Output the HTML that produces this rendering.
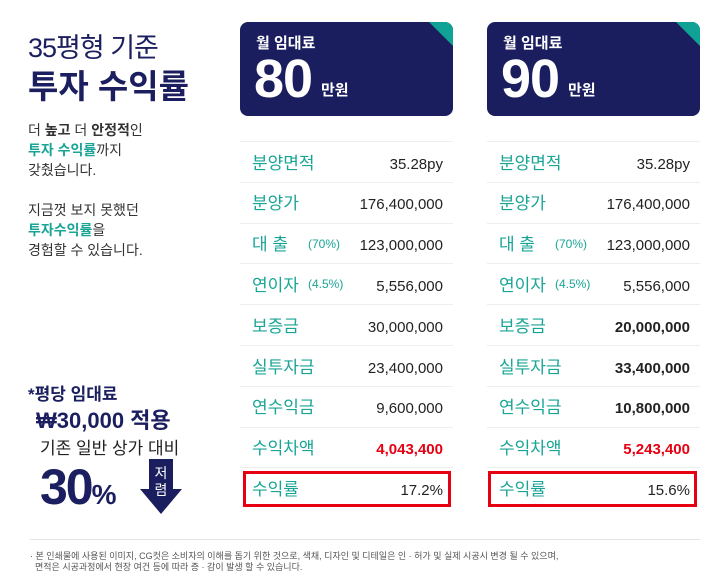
<!DOCTYPE html>
<html><head><meta charset="utf-8"><style>
*{margin:0;padding:0;box-sizing:border-box}
body{width:711px;height:578px;background:#fff;position:relative;overflow:hidden;font-family:"Liberation Sans","Noto Sans CJK KR",sans-serif;color:#333}
.a{position:absolute;white-space:nowrap}
.navy{color:#1b1f5f}.teal{color:#18a596}
.card{position:absolute;top:22px;width:213px;height:94px;background:#1b1e5e;border-radius:8px;overflow:hidden}
.card .corner{position:absolute;right:0;top:0;width:0;height:0;border-top:24px solid #10a395;border-left:24px solid transparent}
.card .t1{position:absolute;left:16px;top:10px;color:#fff;font-size:15px;font-weight:bold}
.card .t2{position:absolute;left:14px;top:26px;color:#fff;font-size:54px;font-weight:bold;letter-spacing:-1px}
.card .t3{position:absolute;left:81px;top:57px;color:#fff;font-size:15px;font-weight:bold}
.row{position:absolute;height:41px;border-top:1px solid #eee;font-size:17px}
.row span{position:absolute;height:40px;display:flex;align-items:center}
.row .l{left:12px;top:-1px;color:#18a596}
.row .p{left:68px;top:0;color:#18a596;font-size:12px}
.row .v{right:10px;top:2px;color:#222;font-size:15px}
.red{color:#e60012!important;font-weight:bold}
.b{font-weight:bold}
.box{position:absolute;border:3px solid #e60012}
</style></head><body>
<div class="a navy" style="left:28px;top:26px;font-size:27px;letter-spacing:-1px">35평형 기준</div>
<div class="a navy" style="left:28px;top:60px;font-size:33px;font-weight:bold">투자 수익률</div>
<div class="a" style="left:28px;top:120px;font-size:14px;line-height:20px;color:#333">더 <b>높고</b> 더 <b>안정적</b>인<br><b class="teal">투자 수익률</b>까지<br>갖췄습니다.<br><br>지금껏 보지 못했던<br><b class="teal">투자수익률</b>을<br>경험할 수 있습니다.</div>
<div class="a navy" style="left:28px;top:380px;font-size:17px;font-weight:bold">*평당 임대료</div>
<div class="a navy" style="left:36px;top:403px;font-size:22px;font-weight:bold">₩30,000 적용</div>
<div class="a" style="left:40px;top:434px;font-size:17px;color:#222">기존 일반 상가 대비</div>
<div class="a navy" style="left:40px;top:458px;font-size:50px;font-weight:bold;letter-spacing:-2px">30<span style="font-size:28px">%</span></div>
<svg class="a" style="left:140px;top:459px" width="42" height="56"><polygon points="9,0 33,0 33,30 42,30 21,55 0,30 9,30" fill="#1b1e5e"/><text x="21" y="19" fill="#fff" font-size="14" text-anchor="middle" font-family="Noto Sans CJK KR">저</text><text x="21" y="36" fill="#fff" font-size="14" text-anchor="middle" font-family="Noto Sans CJK KR">렴</text></svg>

<div class="card" style="left:240px"><div class="corner"></div><div class="t1">월 임대료</div><div class="t2">80</div><div class="t3">만원</div></div>
<div class="card" style="left:487px"><div class="corner"></div><div class="t1">월 임대료</div><div class="t2">90</div><div class="t3">만원</div></div>

<div id="tables"></div>
<div class="box" style="left:243px;top:471px;width:208px;height:36px"></div>
<div class="box" style="left:488px;top:471px;width:209px;height:36px"></div>

<div class="a" style="left:30px;top:539px;width:670px;height:1px;background:#e5e5e5"></div>
<div class="a" style="left:30px;top:551px;font-size:9px;line-height:11px;color:#555">· 본 인쇄물에 사용된 이미지, CG컷은 소비자의 이해를 돕기 위한 것으로, 색채, 디자인 및 디테일은 인 · 허가 및 실제 시공시 변경 될 수 있으며,<br>&nbsp;&nbsp;면적은 시공과정에서 현장 여건 등에 따라 증 · 감이 발생 할 수 있습니다.</div>
<script>
const labels=["분양면적","분양가","대 출","연이자","보증금","실투자금","연수익금","수익차액","수익률"];
const notes=["","","(70%)","(4.5%)","","","","",""];
const vals80=["35.28py","176,400,000","123,000,000","5,556,000","30,000,000","23,400,000","9,600,000","4,043,400","17.2%"];
const vals90=["35.28py","176,400,000","123,000,000","5,556,000","20,000,000","33,400,000","10,800,000","5,243,400","15.6%"];
const c=document.getElementById('tables');
[[240,vals80,'80'],[487,vals90,'90']].forEach(([x,vals,k])=>{
 labels.forEach((lab,i)=>{
  const r=document.createElement('div');r.className='row';
  
  
  r.style.left=x+'px';r.style.top=(141+i*40.8)+'px';r.style.width='213px';
  let cls='v';
  if(i===7)cls+=' red';
  if(k==='90'&&i>=4&&i<=6)cls+=' b';
  r.innerHTML='<span class="l">'+lab+'</span>'+(notes[i]?'<span class="p">'+notes[i]+'</span>':'')+'<span class="'+cls+'">'+vals[i]+'</span>';
  c.appendChild(r);
 });
});
</script>
</body></html>
